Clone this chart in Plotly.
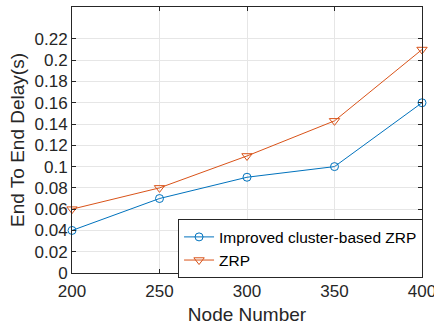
import plotly.graph_objects as go

nodes = [200, 250, 300, 350, 400]
improved = [0.04, 0.07, 0.09, 0.10, 0.16]
zrp = [0.06, 0.08, 0.11, 0.143, 0.21]
yticks = [0, 0.02, 0.04, 0.06, 0.08, 0.1, 0.12, 0.14, 0.16, 0.18, 0.2, 0.22]
ytick_text = ["0", "0.02", "0.04", "0.06", "0.08", "0.1", "0.12", "0.14", "0.16", "0.18", "0.2", "0.22"]
xticks = [200, 250, 300, 350, 400]

FONT = "Liberation Sans, Arial, Helvetica"

fig = go.Figure()
fig.add_trace(go.Scatter(x=nodes, y=improved, mode="lines+markers", name="Improved cluster-based ZRP",
                         line=dict(color="#0072BD", width=1),
                         marker=dict(symbol="circle-open", size=8, color="#0072BD", line=dict(width=1)),
                         cliponaxis=False))
fig.add_trace(go.Scatter(x=nodes, y=zrp, mode="lines+markers", name="ZRP",
                         line=dict(color="#D95319", width=1),
                         marker=dict(symbol="triangle-down-open", size=9, color="#D95319", line=dict(width=1)),
                         cliponaxis=False))

axis_common = dict(showline=True, linecolor="#262626", linewidth=1, mirror="allticks",
                   ticks="inside", ticklen=4, tickcolor="#262626",
                   showgrid=True, gridcolor="#e6e6e6", gridwidth=1, zeroline=False,
                   ticklabeloverflow="allow",
                   tickfont=dict(family=FONT, size=17, color="#262626"))

fig.update_xaxes(range=[200, 400], tickvals=xticks, ticklabelstandoff=3,
                 title=dict(text="Node Number", font=dict(family=FONT, size=19, color="#262626"), standoff=7),
                 **axis_common)
fig.update_yaxes(range=[0, 0.25], tickvals=yticks, ticktext=ytick_text,
                 title=dict(text="End To End Delay(s)", font=dict(family=FONT, size=19, color="#262626"), standoff=4),
                 **axis_common)

fig.update_layout(width=434, height=325, margin=dict(l=72, r=12, t=7, b=52, autoexpand=False),
                  plot_bgcolor="white", paper_bgcolor="white",
                  showlegend=True,
                  legend=dict(x=0.303, y=-0.02, xanchor="left", yanchor="bottom",
                              bgcolor="white", bordercolor="#262626", borderwidth=1,
                              font=dict(family=FONT, size=15.5, color="#000000"),
                              tracegroupgap=0, itemwidth=30))

fig.write_html("out.html", config={"displayModeBar": False},
               post_script="document.body.style.margin='0';document.body.style.padding='0';")
